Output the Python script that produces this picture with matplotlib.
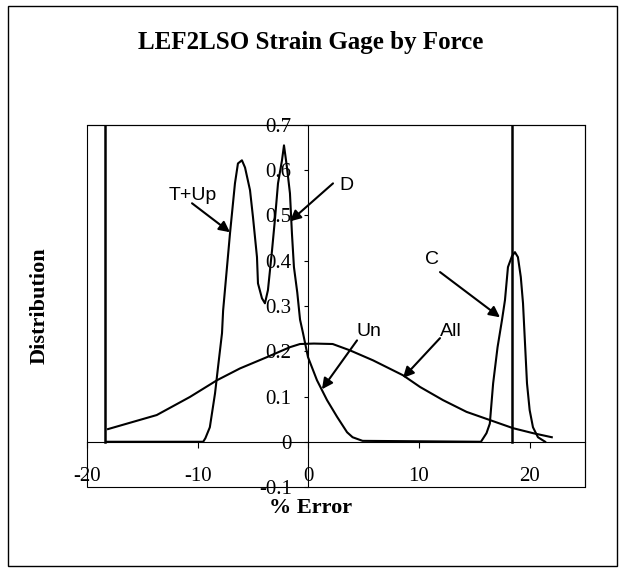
import matplotlib
matplotlib.use('Agg')
import matplotlib.pyplot as plt
from matplotlib.patches import Rectangle
from matplotlib.ticker import FuncFormatter
import numpy as np

plt.rcParams['axes.unicode_minus'] = False

serif = 'Liberation Serif'
sans = 'Liberation Sans'

# Distribution curves (x = % error, y = distribution)
force_err = [-18.2, -9.5, -9.3, -8.9, -8.43, -8.16, -7.8, -7.7, -7.08, -6.63, -6.36, -6.0,
             -5.72, -5.27, -5.0, -4.64, -4.55, -4.19, -3.92, -3.65, -3.28, -3.0, -2.74,
             -2.38, -2.2, -1.95, -1.66, -1.48, -1.3, -1.0, -0.75, -0.48, -0.03, 0.78,
             1.69, 2.6, 3.5, 4.0, 4.9, 15.6, 16.1, 16.4, 16.7, 17.1, 17.5, 17.77, 18.04,
             18.4, 18.67, 18.94, 19.2, 19.4, 19.76, 20.0, 20.3, 20.75, 21.4]
force_dist = [0.0, 0.0, 0.008, 0.032, 0.107, 0.165, 0.24, 0.29, 0.46, 0.571, 0.615, 0.622,
              0.606, 0.556, 0.496, 0.408, 0.35, 0.317, 0.306, 0.335, 0.423, 0.496, 0.571,
              0.622, 0.655, 0.61, 0.549, 0.46, 0.386, 0.33, 0.27, 0.24, 0.187, 0.136,
              0.092, 0.055, 0.021, 0.01, 0.002, 0.0, 0.019, 0.04, 0.129, 0.209, 0.269,
              0.313, 0.386, 0.41, 0.419, 0.408, 0.364, 0.306, 0.129, 0.07, 0.032, 0.01, 0.0]

all_err = [-18.1, -13.7, -10.7, -8.25, -6.18, -3.74, -1.66, -0.75, 0.5, 2.2, 3.76, 5.84,
           8.55, 10.1, 12.17, 14.3, 16.4, 18.5, 20.3, 22.0]
all_dist = [0.028, 0.059, 0.099, 0.136, 0.162, 0.187, 0.209, 0.216, 0.217, 0.216, 0.202,
            0.180, 0.147, 0.121, 0.092, 0.066, 0.048, 0.030, 0.019, 0.010]

# limit lines
limits = [-18.4, 18.4]

# labels: text, text position, arrow tail, arrow head
labels = [
    ('T+Up', (-10.42, 0.545), (-10.51, 0.527), (-7.08, 0.463)),
    ('D', (3.40, 0.567), (2.23, 0.571), (-1.66, 0.487)),
    ('C', (11.17, 0.403), (11.9, 0.375), (17.32, 0.275)),
    ('Un', (5.48, 0.244), (4.4, 0.224), (1.23, 0.116)),
    ('All', (12.89, 0.244), (11.9, 0.229), (8.55, 0.141)),
]

fig = plt.figure(figsize=(6.21, 5.71), dpi=100)
ax = fig.add_axes([0.1401, 0.1471, 0.8019, 0.634])

ax.plot(force_err, force_dist, color='black', lw=1.5)
ax.plot(all_err, all_dist, color='black', lw=1.5)
for v in limits:
    ax.plot([v, v], [0, 0.7], color='black', lw=1.8)

for text, tpos, tail, head in labels:
    ax.annotate('', xy=head, xytext=tail,
                arrowprops=dict(arrowstyle='-|>', color='black', lw=1.5,
                                mutation_scale=16, shrinkA=0, shrinkB=0))
    ax.text(tpos[0], tpos[1], text, family=sans, fontsize=14, ha='center', va='center')

ax.set_xlim(-20, 25)
ax.set_ylim(-0.1, 0.7)
ax.spines['left'].set_position(('data', 0))
ax.spines['bottom'].set_position(('data', 0))
for s in ['top', 'right']:
    ax.spines[s].set_linewidth(0.8)
ax.add_patch(Rectangle((0, 0), 1, 1, transform=ax.transAxes, fill=False, lw=0.8,
                       clip_on=False))

ax.set_xticks([-20, -10, 0, 10, 20])
ax.set_yticks(np.round(np.arange(-0.1, 0.71, 0.1), 1))
ax.yaxis.set_major_formatter(FuncFormatter(lambda v, p: f'{v:g}'))
ax.tick_params(axis='x', direction='out', length=4, pad=14, labelsize=15)
ax.tick_params(axis='y', direction='out', length=3, pad=9, labelsize=15)
for lab in ax.get_xticklabels() + ax.get_yticklabels():
    lab.set_family(serif)

fig.text(0.5, 0.925, 'LEF2LSO Strain Gage by Force', family=serif, fontweight='bold',
         fontsize=18, ha='center', va='center')
fig.text(0.5, 0.11, '% Error', family=serif, fontweight='bold', fontsize=16,
         ha='center', va='center')
fig.text(0.064, 0.464, 'Distribution', family=serif, fontweight='bold', fontsize=16,
         ha='center', va='center', rotation=90)

fig.patches.append(Rectangle((0.013, 0.008), 0.981, 0.982, transform=fig.transFigure,
                             fill=False, lw=1.0, edgecolor='black'))

fig.savefig('out.png', dpi=100)
